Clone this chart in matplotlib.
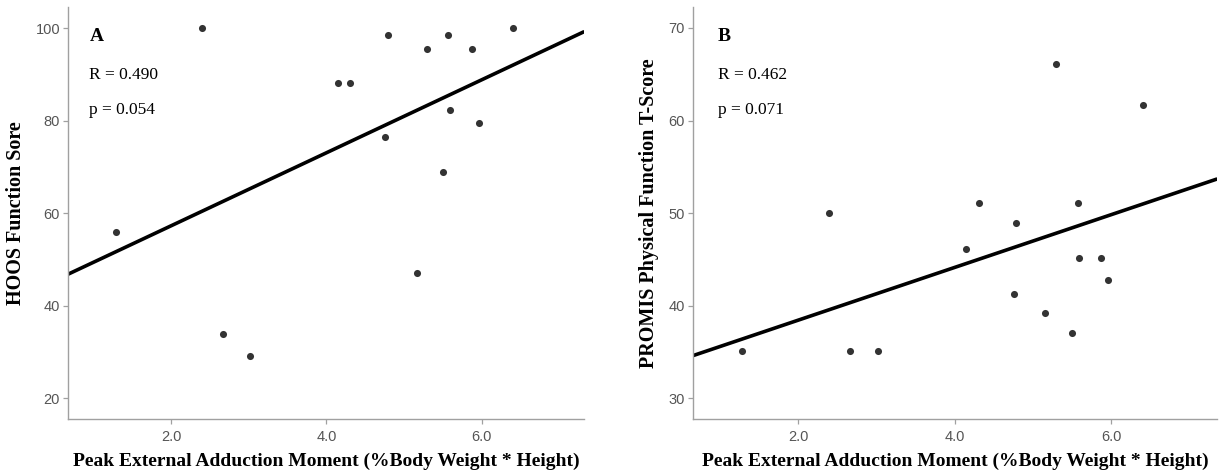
import numpy as np
import matplotlib.pyplot as plt

# peak external adduction moment (%BW * Ht), shared by both panels
moment = np.array([1.29, 2.40, 2.67, 3.02, 4.15, 4.31, 4.76, 4.79,
                   5.16, 5.30, 5.50, 5.57, 5.59, 5.87, 5.96, 6.40])
hoos = np.array([56.0, 100.0, 34.0, 29.1, 88.2, 88.2, 76.5, 98.5,
                 47.1, 95.5, 69.0, 98.5, 82.3, 95.5, 79.4, 100.0])
promis = np.array([35.1, 50.0, 35.1, 35.1, 46.1, 51.1, 41.3, 48.9,
                   39.2, 66.1, 37.1, 51.1, 45.2, 45.2, 42.8, 61.7])

xticks = [2.0, 4.0, 6.0]
xlabel = 'Peak External Adduction Moment (%Body Weight * Height)'

serif = ['Liberation Serif', 'DejaVu Serif']
sans = ['Liberation Sans', 'DejaVu Sans']


def panel(ax, y, letter, r_txt, p_txt, ylabel, xlim, ylim, yticks, tx):
    ax.scatter(moment, y, s=26, color='#333333', zorder=3, linewidths=0)
    k, b = np.polyfit(moment, y, 1)
    xx = np.array(xlim)
    ax.plot(xx, k * xx + b, color='black', lw=2.6, solid_capstyle='butt', zorder=2)

    ax.set_xlim(xlim)
    ax.set_ylim(ylim)
    ax.set_xticks(xticks)
    ax.set_xticklabels([f'{t:.1f}' for t in xticks])
    ax.set_yticks(yticks)
    ax.set_yticklabels([str(t) for t in yticks])

    for s in ['top', 'right']:
        ax.spines[s].set_visible(False)
    for s in ['left', 'bottom']:
        ax.spines[s].set_color('#a0a0a0')
        ax.spines[s].set_linewidth(1.0)
    ax.tick_params(axis='both', direction='out', length=3.5, width=0.9,
                   color='#a0a0a0', labelcolor='#555555', labelsize=10.5)
    ax.tick_params(axis='x', pad=5)
    ax.tick_params(axis='y', pad=2)
    for lab in ax.get_xticklabels() + ax.get_yticklabels():
        lab.set_family(sans)

    ax.set_xlabel(xlabel, family=serif, fontweight='bold', fontsize=14, labelpad=6)
    ax.set_ylabel(ylabel, family=serif, fontweight='bold', fontsize=14.5, labelpad=7)

    ax.text(tx, 0.93, letter, transform=ax.transAxes, family=serif,
            fontweight='bold', fontsize=14, va='center', ha='left')
    ax.text(tx, 0.835, r_txt, transform=ax.transAxes, family=serif,
            fontsize=12.5, va='center', ha='left')
    ax.text(tx, 0.75, p_txt, transform=ax.transAxes, family=serif,
            fontsize=12.5, va='center', ha='left')


fig = plt.figure(figsize=(12.24, 4.74), dpi=100)
ax1 = fig.add_axes([0.0553, 0.1167, 0.4221, 0.868])
ax2 = fig.add_axes([0.5659, 0.1167, 0.4286, 0.868])

panel(ax1, hoos, 'A', 'R = 0.490', 'p = 0.054', 'HOOS Function Sore',
      (0.67, 7.32), (15.6, 104.5), [20, 40, 60, 80, 100], 0.042)
panel(ax2, promis, 'B', 'R = 0.462', 'p = 0.071', 'PROMIS Physical Function T-Score',
      (0.656, 7.353), (27.8, 72.24), [30, 40, 50, 60, 70], 0.048)

fig.savefig('out.png', dpi=100)
